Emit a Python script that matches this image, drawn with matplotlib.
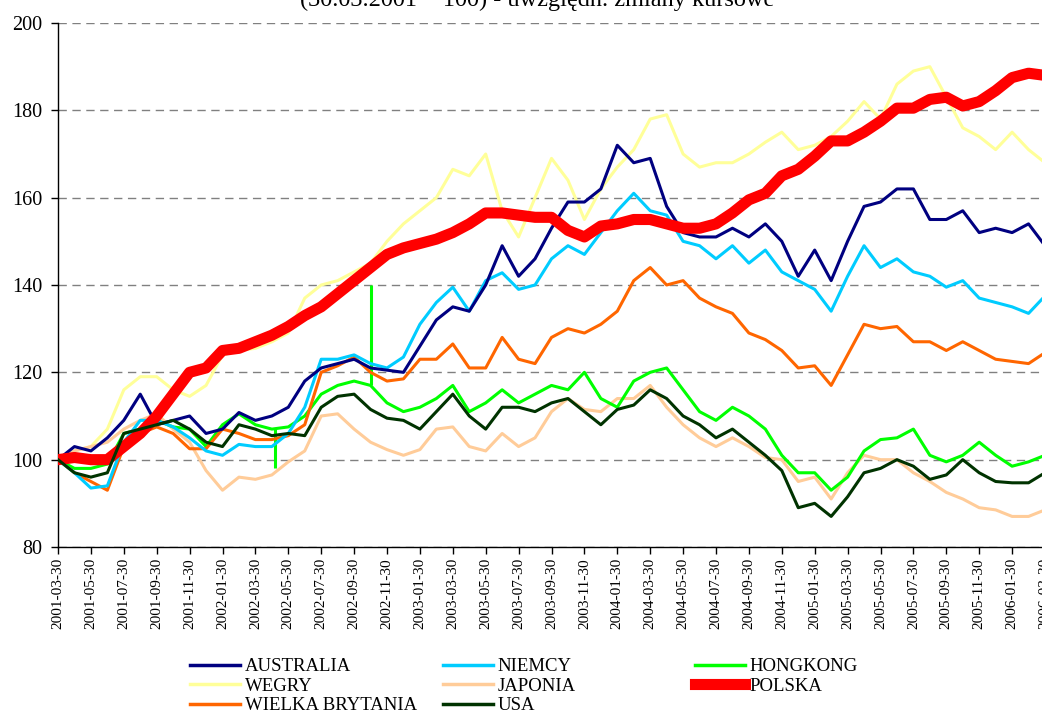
import numpy as np
import matplotlib
matplotlib.use('Agg')
import matplotlib.pyplot as plt
from matplotlib.lines import Line2D

# ── data (index 30.03.2001 = 100, read monthly) ──────────────
month_idx = np.arange(61)          # months since 2001-03-30

tick_labels = [
    '2001-03-30', '2001-05-30', '2001-07-30', '2001-09-30', '2001-11-30',
    '2002-01-30', '2002-03-30', '2002-05-30', '2002-07-30', '2002-09-30',
    '2002-11-30', '2003-01-30', '2003-03-30', '2003-05-30', '2003-07-30',
    '2003-09-30', '2003-11-30', '2004-01-30', '2004-03-30', '2004-05-30',
    '2004-07-30', '2004-09-30', '2004-11-30', '2005-01-30', '2005-03-30',
    '2005-05-30', '2005-07-30', '2005-09-30', '2005-11-30', '2006-01-30',
    '2006-03-30',
]

australia = [100, 103, 102, 105, 109, 115, 108, 109, 110, 106,
             107, 110.8, 109, 110, 112, 118, 121, 122, 123, 121,
             120.5, 120, 126, 132, 135, 134, 140, 149, 142, 146,
             153, 159, 159, 162, 172, 168, 169, 158, 152, 151,
             151, 153, 151, 154, 150, 142, 148, 141, 150, 158,
             159, 162, 162, 155, 155, 157, 152, 153, 152, 154, 149]

niemcy = [100, 97, 93.5, 94, 104, 109, 109, 107.5, 105, 102,
          101, 103.5, 103, 103, 106, 112, 123, 123, 124, 122,
          121, 123.5, 131, 136, 139.5, 134, 141, 142.8, 139, 140,
          146, 149, 147, 152, 157, 161, 157, 156, 150, 149,
          146, 149, 145, 148, 143, 141, 139, 134, 142, 149,
          144, 146, 143, 142, 139.5, 141, 137, 136, 135, 133.5, 137.5]

hongkong = [100, 98, 98, 99, 106, 107, 109, 107.5, 107, 103,
            108, 110.5, 108, 107, 107.5, 110, 115, 117, 118, 117,
            113, 111, 112, 114, 117, 111, 113, 116, 113, 115,
            117, 116, 120, 114, 112, 118, 120, 121, 116, 111,
            109, 112, 110, 107, 101, 97, 97, 93, 96, 102,
            104.6, 105, 107, 101, 99.5, 101, 104, 101, 98.5, 99.5, 101]
hk_spike_month = [13.2, 19.0]
hk_spike_base = [107, 117]
hk_spike_value = [98, 140]

wegry = [100, 102, 103, 107, 116, 119, 119, 116, 114.5, 117,
         124, 125, 125.5, 127, 129, 137, 140, 141, 143, 145,
         150, 154, 157, 160, 166.5, 165, 170, 157, 151, 160,
         169, 164, 155, 162, 167, 171, 178, 179, 170, 167,
         168, 168, 170, 172.7, 175, 171, 172, 174, 177.5, 182,
         178, 186, 189, 190, 183, 176, 174, 171, 175, 171, 168]

japonia = [100, 102, 103, 104, 107, 109, 110.5, 107, 104, 97.5,
           93, 96, 95.5, 96.5, 99.5, 102, 110, 110.5, 107, 104,
           102.3, 101, 102.3, 107, 107.5, 103, 102, 106, 103, 105,
           111, 114, 111.5, 111, 114, 114, 117, 112, 108, 105,
           103, 105, 103, 100.5, 100, 95, 96, 91, 97, 101,
           100, 100, 97, 95, 92.5, 91, 89, 88.5, 87, 87, 88.5]

polska = [100, 100.5, 100, 100, 103, 106, 110, 115, 120, 121,
          125, 125.5, 127, 128.5, 130.5, 133, 135, 138, 141, 144,
          147, 148.5, 149.5, 150.5, 152, 154, 156.5, 156.5, 156, 155.5,
          155.5, 152.5, 151, 153.5, 154, 155, 155, 154, 153, 153,
          154, 156.5, 159.5, 161, 165, 166.5, 169.5, 173, 173, 175,
          177.5, 180.5, 180.5, 182.5, 183, 181, 182, 184.5, 187.5, 188.5, 188]

wielka_brytania = [100, 97, 95, 93, 103, 106, 107.5, 106, 102.5, 102.5,
                   107, 106, 104.6, 104.6, 105.5, 108, 120, 121.5, 123.5, 120,
                   118, 118.5, 123, 123, 126.5, 121, 121, 128, 123, 122,
                   128, 130, 129, 131, 134, 141, 144, 140, 141, 137,
                   135, 133.5, 129, 127.5, 125, 121, 121.5, 117, 124, 131,
                   130, 130.5, 127, 127, 125, 127, 125, 123, 122.5, 122, 124.5]

usa = [100, 97, 96, 97, 106, 107, 108, 109, 107, 104,
       103, 108, 107, 105.5, 106, 105.5, 112, 114.5, 115, 111.5,
       109.5, 109, 107, 111, 115, 110, 107, 112, 112, 111,
       113, 114, 111, 108, 111.5, 112.5, 116, 114, 110, 108,
       105, 107, 104, 101, 97.5, 89, 90, 87, 91.5, 97,
       98, 100, 98.5, 95.5, 96.5, 100, 97, 95, 94.7, 94.7, 97]

# ── styles ───────────────────────────────────
SERIES = [
    # label, values, color, width
    ('WEGRY', wegry, '#FFFF99', 2.2),
    ('JAPONIA', japonia, '#FFCC99', 2.2),
    ('HONGKONG', hongkong, '#00FF00', 2.2),
    ('WIELKA BRYTANIA', wielka_brytania, '#FF6600', 2.2),
    ('NIEMCY', niemcy, '#00CCFF', 2.2),
    ('AUSTRALIA', australia, '#000080', 2.2),
    ('POLSKA', polska, '#FF0000', 8.0),
    ('USA', usa, '#003300', 2.2),
]
style = {name: (col, lw) for name, _, col, lw in SERIES}

SERIF = ['Liberation Serif', 'DejaVu Serif']

fig = plt.figure(figsize=(10.42, 7.13), dpi=100)
px_per_month = 16.45
x_max = 61
ax = fig.add_axes([58 / 1042, 1 - 547 / 713,
                   x_max * px_per_month / 1042, 524 / 713])

for name, vals, col, lw in SERIES:
    ax.plot(month_idx, vals, color=col, lw=lw, solid_joinstyle='round',
            zorder=3)
    if name == 'HONGKONG':
        ax.vlines(hk_spike_month, hk_spike_base, hk_spike_value,
                  color=col, lw=2.2, zorder=3)

ax.set_xlim(0, x_max)
ax.set_ylim(80, 200)
ax.set_yticks(np.arange(80, 201, 20))
ax.set_xticks(np.arange(0, 61, 2))
ax.set_xticklabels(tick_labels, rotation=90, fontsize=11, family=SERIF)
for lab in ax.get_yticklabels():
    lab.set_fontsize(14.5)
    lab.set_family(SERIF)

ax.grid(axis='y', color='#808080', linestyle=(0, (6, 4)), lw=1.0)
ax.set_axisbelow(True)
for side in ('top', 'right'):
    ax.spines[side].set_visible(False)
for side in ('left', 'bottom'):
    ax.spines[side].set_linewidth(1.0)
ax.tick_params(direction='out', length=5, width=1.0)
ax.tick_params(axis='x', pad=3)
ax.tick_params(axis='y', pad=6)

fig.text(537 / 1042, 1 - 6 / 713,
         '(30.03.2001 = 100) - uwzględn. zmiany kursowe',
         ha='center', va='baseline', fontsize=17.5, family=SERIF)

# legend in three columns, placed like the original
legend_cols = [
    (['AUSTRALIA', 'WEGRY', 'WIELKA BRYTANIA'], 190),
    (['NIEMCY', 'JAPONIA', 'USA'], 443),
    (['HONGKONG', 'POLSKA'], 695),
]
for names, x0 in legend_cols:
    handles = [Line2D([], [], color=style[n][0],
                      lw=style[n][1] if n == 'POLSKA' else 2.5)
               for n in names]
    fig.legend(handles, names, loc='upper left',
               bbox_to_anchor=(x0 / 1042, 1 - 658 / 713),
               frameon=False, borderpad=0, borderaxespad=0,
               handlelength=2.65, handletextpad=0.27, labelspacing=0.13,
               prop={'family': SERIF, 'size': 13.5})

fig.savefig('out.png', dpi=100)
